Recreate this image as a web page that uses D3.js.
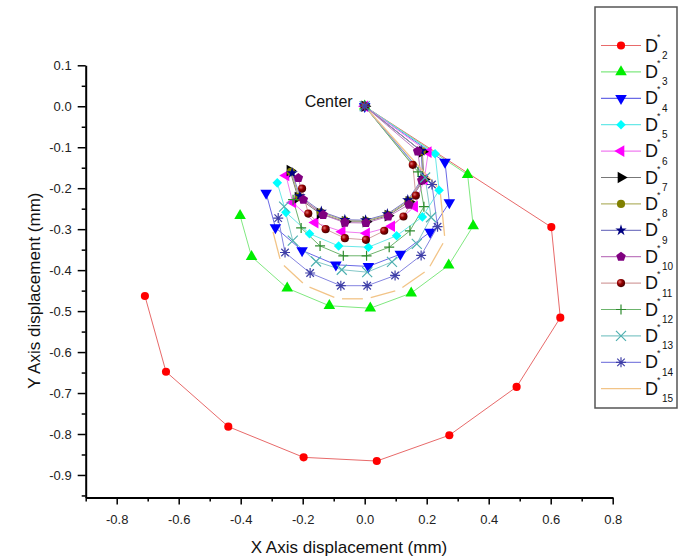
<!DOCTYPE html>
<html lang="en">
<head>
  <meta charset="UTF-8">
  <title>Displacement</title>
  <style>
    body { margin: 0; background: #fff; }
    svg { display: block; font-family: "Liberation Sans", Arial, sans-serif; }
  </style>
</head>
<body>
  <div class="container"></div>
  <script src="https://d3js.org/d3.v7.min.js"></script>
  <script>
    // points of each series in mm, the first one is the center (0, 0)
    const xD2 = [0, 0.602, 0.631, 0.490, 0.273, 0.039, -0.197, -0.440, -0.641, -0.709];
    const yD2 = [0, -0.295, -0.516, -0.685, -0.803, -0.866, -0.857, -0.782, -0.648, -0.463];
    const xD3 = [0, 0.332, 0.350, 0.271, 0.150, 0.018, -0.114, -0.250, -0.365, -0.402];
    const yD3 = [0, -0.167, -0.292, -0.388, -0.456, -0.493, -0.487, -0.444, -0.367, -0.267];
    const xD4 = [0, 0.259, 0.273, 0.211, 0.115, 0.012, -0.093, -0.202, -0.288, -0.318];
    const yD4 = [0, -0.136, -0.235, -0.307, -0.361, -0.391, -0.387, -0.352, -0.296, -0.212];
    const xD5 = [0, 0.227, 0.240, 0.186, 0.103, 0.012, -0.084, -0.178, -0.254, -0.282];
    const yD5 = [0, -0.116, -0.205, -0.270, -0.316, -0.344, -0.341, -0.311, -0.259, -0.187];
    const xD6 = [0, 0.205, 0.192, 0.161, 0.087, 0.006, -0.073, -0.160, -0.232, -0.254];
    const yD6 = [0, -0.112, -0.179, -0.245, -0.293, -0.310, -0.306, -0.284, -0.235, -0.169];
    const xD7 = [0, 0.186, 0.191, 0.143, 0.075, 0.004, -0.063, -0.144, -0.215, -0.241];
    const yD7 = [0, -0.111, -0.179, -0.233, -0.267, -0.282, -0.282, -0.262, -0.223, -0.157];
    const xD8 = [0, 0.184, 0.189, 0.141, 0.074, 0.004, -0.064, -0.142, -0.212, -0.238];
    const yD8 = [0, -0.110, -0.177, -0.231, -0.265, -0.280, -0.279, -0.259, -0.221, -0.160];
    const xD9 = [0, 0.182, 0.187, 0.139, 0.073, 0.003, -0.064, -0.140, -0.209, -0.234];
    const yD9 = [0, -0.109, -0.175, -0.229, -0.263, -0.278, -0.277, -0.257, -0.219, -0.163];
    const xD10 = [0, 0.171, 0.184, 0.143, 0.076, 0.004, -0.064, -0.134, -0.198, -0.214];
    const yD10 = [0, -0.110, -0.181, -0.240, -0.269, -0.285, -0.284, -0.265, -0.228, -0.175];
    const xD11 = [0, 0.155, 0.165, 0.125, 0.063, 0.004, -0.064, -0.126, -0.182, -0.202];
    const yD11 = [0, -0.143, -0.218, -0.269, -0.304, -0.326, -0.322, -0.300, -0.262, -0.201];
    const xD12 = [0, 0.172, 0.191, 0.146, 0.079, 0.006, -0.069, -0.144, -0.205, -0.231];
    const yD12 = [0, -0.160, -0.245, -0.304, -0.344, -0.365, -0.365, -0.341, -0.297, -0.228];
    const xD13 = [0, 0.195, 0.214, 0.168, 0.088, 0.008, -0.074, -0.157, -0.232, -0.260];
    const yD13 = [0, -0.174, -0.271, -0.336, -0.380, -0.405, -0.399, -0.379, -0.328, -0.245];
    const xD14 = [0, 0.217, 0.235, 0.182, 0.098, 0.008, -0.077, -0.176, -0.257, -0.279];
    const yD14 = [0, -0.191, -0.294, -0.364, -0.413, -0.438, -0.438, -0.407, -0.357, -0.273];
    const xD15 = [0, 0.243, 0.259, 0.204, 0.111, 0.007, -0.086, -0.190, -0.270, -0.299];
    const yD15 = [0, -0.204, -0.326, -0.399, -0.448, -0.470, -0.470, -0.438, -0.382, -0.297];

    const seriesNames = ['2', '3', '4', '5', '6', '7', '8', '9', '10', '11', '12', '13', '14', '15'];
    const xTicks = [-0.8, -0.6, -0.4, -0.2, 0, 0.2, 0.4, 0.6, 0.8];
    const yTicks = [0.1, 0, -0.1, -0.2, -0.3, -0.4, -0.5, -0.6, -0.7, -0.8, -0.9];

    const allX = [xD2, xD3, xD4, xD5, xD6, xD7, xD8, xD9, xD10, xD11, xD12, xD13, xD14, xD15];
    const allY = [yD2, yD3, yD4, yD5, yD6, yD7, yD8, yD9, yD10, yD11, yD12, yD13, yD14, yD15];

    // marker shape, marker colour, line colour
    const looks = [
      ['circle', '#ff0000', '#e86a6a'],
      ['up', '#00ee00', '#80e880'],
      ['down', '#0000ff', '#6a6ae6'],
      ['diamond', '#00ffff', '#6ae8e8'],
      ['left', '#ff00ff', '#f07cf0'],
      ['right', '#000000', '#777777'],
      ['circle', '#808000', '#b4b46a'],
      ['star', '#000080', '#7c7cc4'],
      ['pentagon', '#800080', '#c07cc0'],
      ['sphere', '#800000', '#d4a0a0'],
      ['plus', '#2e8b2e', '#6cb46c'],
      ['cross', '#4fb0b0', '#84c8c8'],
      ['aster', '#4040a8', '#8484e0'],
      ['none', '#f0b060', '#f2c487']
    ];

    const series = seriesNames.map((n, i) => ({
      name: n,
      pts: allX[i].map((v, j) => [v, allY[i][j]]),
      shape: looks[i][0], color: looks[i][1], line: looks[i][2]
    }));

    const W = 682, H = 560;
    const x = d3.scaleLinear().domain([-0.9, 0.8]).range([85.7, 612.7]);
    const y = d3.scaleLinear().domain([-0.955, 0.1]).range([497.5, 65.3]);
    const fmt = d => (Math.round(d * 10) / 10).toFixed(1);

    const svg = d3.select('.container').append('svg')
      .attr('width', W).attr('height', H);

    const defs = svg.append('defs');
    const grad = defs.append('radialGradient').attr('id', 'sph')
      .attr('cx', '35%').attr('cy', '35%').attr('r', '65%');
    grad.append('stop').attr('offset', '0%').attr('stop-color', '#e07070');
    grad.append('stop').attr('offset', '45%').attr('stop-color', '#990000');
    grad.append('stop').attr('offset', '100%').attr('stop-color', '#4a0000');

    // marker paths
    function shapePath(s) {
      const r = 5;
      if (s === 'circle' || s === 'sphere') return d3.symbol(d3.symbolCircle, 52)();
      if (s === 'up' || s === 'down' || s === 'left' || s === 'right') return d3.symbol(d3.symbolTriangle, 58)();
      if (s === 'diamond') return d3.symbol(d3.symbolSquare, 46)();
      if (s === 'star') return d3.symbol(d3.symbolStar, 40)();
      if (s === 'pentagon') {
        return d3.range(5).map(k => {
          const a = -Math.PI / 2 + k * 2 * Math.PI / 5;
          return (k ? 'L' : 'M') + (r * Math.cos(a)).toFixed(2) + ',' + (r * Math.sin(a)).toFixed(2);
        }).join('') + 'Z';
      }
      if (s === 'plus') return `M${-r},0H${r}M0,${-r}V${r}`;
      if (s === 'cross') return `M${-r},${-r}L${r},${r}M${-r},${r}L${r},${-r}`;
      if (s === 'aster') {
        const q = r * 0.75;
        return `M${-r},0H${r}M0,${-r}V${r}M${-q},${-q}L${q},${q}M${-q},${q}L${q},${-q}`;
      }
      return '';
    }
    const rot = { down: 180, left: -90, right: 90, diamond: 45 };
    const stroked = s => s === 'plus' || s === 'cross' || s === 'aster';

    function drawMarker(g, s, color, px, py) {
      if (s === 'none') return;
      const p = g.append('path')
        .attr('d', shapePath(s))
        .attr('transform', `translate(${px},${py}) rotate(${rot[s] || 0})`);
      if (stroked(s)) {
        p.attr('fill', 'none').attr('stroke', color).attr('stroke-width', 1.2);
      } else {
        p.attr('fill', s === 'sphere' ? 'url(#sph)' : color);
      }
    }

    // axes
    svg.append('g').attr('transform', `translate(0,${y(-0.955)})`)
      .call(d3.axisBottom(x).tickValues(xTicks).tickFormat(fmt).tickSize(7).tickSizeOuter(0).tickPadding(10));
    svg.append('g').attr('transform', `translate(0,${y(-0.955)})`)
      .call(d3.axisBottom(x).tickValues(d3.range(-9, 9, 2).map(v => v / 10)).tickFormat('').tickSize(4))
      .call(g => g.select('.domain').remove());

    svg.append('g').attr('transform', `translate(${x(-0.9)},0)`)
      .call(d3.axisLeft(y).tickValues(yTicks).tickFormat(fmt).tickSize(8).tickSizeOuter(0).tickPadding(6));
    svg.append('g').attr('transform', `translate(${x(-0.9)},0)`)
      .call(d3.axisLeft(y).tickValues(d3.range(-19, 2, 2).map(v => v / 20)).tickFormat('').tickSize(4))
      .call(g => g.select('.domain').remove());

    svg.selectAll('.domain').attr('stroke', '#000').attr('stroke-width', 2);
    svg.selectAll('.tick line').attr('stroke', '#000').attr('stroke-width', 1.5);
    svg.selectAll('.tick text').attr('fill', '#222').style('font-size', '13px');

    svg.append('text')
      .attr('x', 349).attr('y', 553)
      .attr('text-anchor', 'middle')
      .style('font-size', '17px').attr('fill', '#111')
      .text('X Axis displacement (mm)');
    svg.append('text')
      .attr('transform', `translate(40,${y(-0.45)}) rotate(-90)`)
      .attr('text-anchor', 'middle')
      .style('font-size', '17px').attr('fill', '#111')
      .text('Y Axis displacement (mm)');

    // lines
    const line = d3.line().x(d => x(d[0])).y(d => y(d[1]));
    const plot = svg.append('g');
    series.forEach(s => {
      if (s.shape === 'none') {
        // line with gaps around the (hidden) points
        const pp = s.pts.map(d => [x(d[0]), y(d[1])]);
        for (let i = 1; i < pp.length; i++) {
          const [x0, y0] = pp[i - 1], [x1, y1] = pp[i];
          const len = Math.hypot(x1 - x0, y1 - y0), gap = 4 / len;
          plot.append('line')
            .attr('x1', x0 + (x1 - x0) * gap).attr('y1', y0 + (y1 - y0) * gap)
            .attr('x2', x1 - (x1 - x0) * gap).attr('y2', y1 - (y1 - y0) * gap)
            .attr('stroke', s.line).attr('stroke-width', 1.3);
        }
      } else {
        plot.append('path')
          .attr('d', line(s.pts))
          .attr('fill', 'none')
          .attr('stroke', s.line)
          .attr('stroke-width', 1);
      }
    });
    series.forEach(s => {
      s.pts.forEach(d => drawMarker(plot, s.shape, s.color, x(d[0]), y(d[1])));
    });

    svg.append('text')
      .attr('x', x(0) - 12).attr('y', y(0) + 1)
      .attr('text-anchor', 'end')
      .style('font-size', '16px').attr('fill', '#111')
      .text('Center');

    // legend
    const leg = svg.append('g');
    leg.append('rect')
      .attr('x', 595).attr('y', 7).attr('width', 82).attr('height', 401)
      .attr('fill', '#fff').attr('stroke', '#555').attr('stroke-width', 1.5);
    series.forEach((s, i) => {
      const ry = 45.5 + i * 26.4;
      leg.append('line')
        .attr('x1', 601).attr('x2', 641).attr('y1', ry).attr('y2', ry)
        .attr('stroke', s.line).attr('stroke-width', 1.2);
      drawMarker(leg, s.shape, s.color, 621, ry);
      leg.append('text').attr('x', 645).attr('y', ry + 6)
        .style('font-size', '18px').attr('fill', '#111').text('D');
      leg.append('text').attr('x', 657).attr('y', ry - 6)
        .style('font-size', '9px').attr('fill', '#111').text('*');
      leg.append('text').attr('x', 662).attr('y', ry + 13.5)
        .style('font-size', '10px').attr('fill', '#111').text(s.name);
    });
  </script>
</body>
</html>
